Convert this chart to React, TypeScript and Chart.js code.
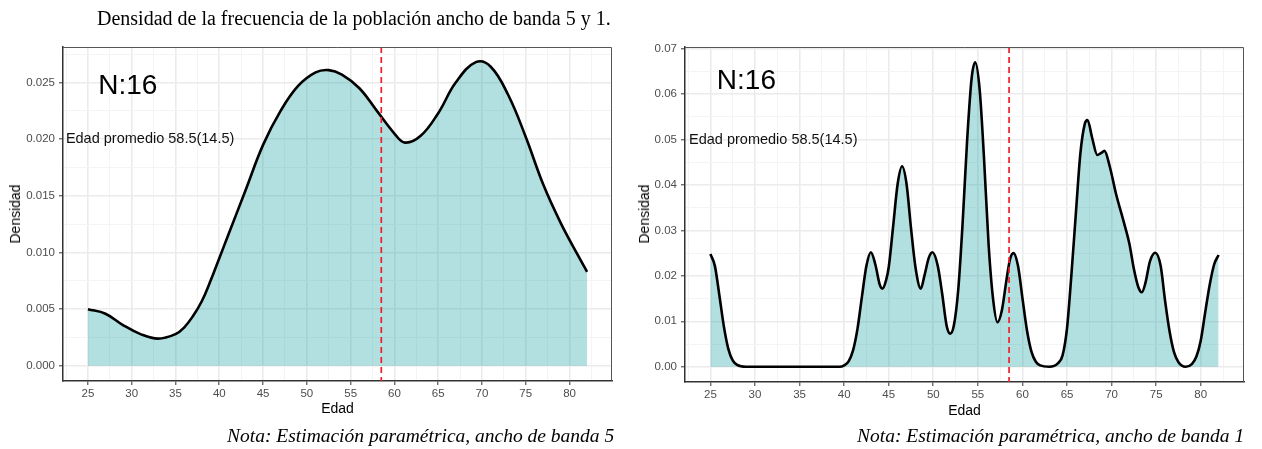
import React, { useEffect, useRef } from "react";
import { Chart, registerables } from "chart.js";

Chart.register(...registerables);

const TITLE = "Densidad de la frecuencia de la población ancho de banda 5 y 1.";
const NOTE_LEFT = "Nota: Estimación paramétrica, ancho de banda 5";
const NOTE_RIGHT = "Nota: Estimación paramétrica, ancho de banda 1";
const N_LABEL = "N:16";
const MEAN_LABEL = "Edad promedio 58.5(14.5)";
const MEAN_AGE = 58.5;
const X_TITLE = "Edad";
const Y_TITLE = "Densidad";

const X_TICKS = [22.5, 25, 27.5, 30, 32.5, 35, 37.5, 40, 42.5, 45, 47.5, 50, 52.5, 55, 57.5, 60, 62.5, 65, 67.5, 70, 72.5, 75, 77.5, 80, 82.5];
const LEFT_Y_TICKS = [0, 0.0025, 0.005, 0.0075, 0.01, 0.0125, 0.015, 0.0175, 0.02, 0.0225, 0.025, 0.0275];
const RIGHT_Y_TICKS = [0, 0.005, 0.01, 0.015, 0.02, 0.025, 0.03, 0.035, 0.04, 0.045, 0.05, 0.055, 0.06, 0.065, 0.07];

// Bandwidth 5 density
const BW5_AGES = [25, 27, 29, 31, 33, 35, 36, 37, 38, 39, 40, 41, 43, 45, 47, 49, 51, 52.5, 54, 56, 58, 60, 61.2, 63, 65, 67, 69.3, 71, 73, 75, 77, 79, 81, 82];
const BW5_DENSITY = [0.0050, 0.0046, 0.0036, 0.0028, 0.0024, 0.0028, 0.0034, 0.0044, 0.0057, 0.0075, 0.0095, 0.0115, 0.0155, 0.0195, 0.0225, 0.0247, 0.0259, 0.0261, 0.0257, 0.0245, 0.0225, 0.0205, 0.0197, 0.0203, 0.0223, 0.0250, 0.0268, 0.0264, 0.0239, 0.0202, 0.0160, 0.0126, 0.0097, 0.0083];

// Bandwidth 1 density
const BW1_AGES = [25, 25.5, 26, 26.5, 27, 27.5, 28, 29, 32, 36, 39.5, 40, 40.5, 41, 41.5, 42, 42.5, 43, 43.5, 44, 44.3, 44.7, 45, 45.5, 46, 46.5, 47, 47.5, 48, 48.6, 49, 49.5, 49.9, 50.5, 51, 51.5, 51.9, 52.3, 52.8, 53.3, 53.8, 54.3, 54.7, 55.2, 55.7, 56.2, 56.7, 57.2, 57.7, 58.2, 58.6, 59, 59.5, 60, 60.5, 61, 61.5, 62, 63, 64, 64.5, 65, 65.5, 66, 66.5, 67, 67.3, 67.8, 68.4, 68.8, 69.2, 69.8, 70.5, 71.3, 72, 72.5, 73, 73.4, 73.8, 74.3, 74.9, 75.5, 76, 76.5, 77, 77.5, 78.3, 79, 79.5, 80, 80.5, 81, 81.5, 82];
const BW1_DENSITY = [0.0248, 0.0222, 0.0158, 0.0090, 0.0040, 0.0014, 0.0004, 0, 0, 0, 0, 0.0003, 0.0012, 0.0036, 0.0084, 0.0155, 0.0222, 0.0252, 0.0225, 0.0180, 0.0172, 0.0190, 0.0219, 0.0310, 0.0402, 0.0441, 0.0402, 0.0305, 0.0219, 0.0172, 0.0200, 0.0240, 0.0252, 0.0222, 0.0160, 0.0090, 0.0073, 0.0090, 0.0170, 0.0320, 0.0500, 0.0635, 0.0670, 0.0610, 0.0455, 0.0270, 0.0150, 0.0098, 0.0125, 0.0190, 0.0236, 0.0250, 0.0222, 0.0151, 0.0081, 0.0034, 0.0011, 0.0003, 0, 0.0008, 0.0025, 0.0085, 0.0205, 0.0340, 0.0470, 0.0535, 0.0543, 0.0505, 0.0466, 0.0470, 0.0475, 0.0440, 0.0380, 0.0323, 0.0270, 0.0215, 0.0175, 0.0164, 0.0185, 0.0232, 0.0251, 0.0222, 0.0145, 0.0078, 0.0032, 0.0010, 0, 0.0006, 0.0022, 0.0058, 0.0120, 0.0180, 0.0225, 0.0246];

const SANS = '"Liberation Sans", Arial, Helvetica, sans-serif';
const SERIF = '"Liberation Serif", "Times New Roman", serif';

const isMajor = (v: number, step: number) => Math.abs(v / step - Math.round(v / step)) < 1e-6;

const overlayPlugin = {
  id: "overlay",
  afterDatasetsDraw(chart: any, _args: any, opts: any) {
    const { ctx, chartArea: a, scales } = chart;
    const x = scales.x;
    const y = scales.y;
    ctx.save();
    ctx.beginPath();
    ctx.rect(a.left, a.top, a.right - a.left, a.bottom - a.top);
    ctx.clip();
    ctx.strokeStyle = "#F01E28";
    ctx.lineWidth = 1.7;
    ctx.setLineDash([6, 4]);
    const px = x.getPixelForValue(MEAN_AGE);
    ctx.beginPath();
    ctx.moveTo(px, a.top);
    ctx.lineTo(px, a.bottom);
    ctx.stroke();
    ctx.restore();

    ctx.save();
    ctx.fillStyle = "#000";
    ctx.textAlign = "center";
    ctx.textBaseline = "middle";
    ctx.font = `28px ${SANS}`;
    ctx.fillText(N_LABEL, x.getPixelForValue(opts.nX), y.getPixelForValue(opts.nY));
    ctx.font = `14.5px ${SANS}`;
    ctx.fillStyle = "#111";
    ctx.fillText(MEAN_LABEL, x.getPixelForValue(opts.mX), y.getPixelForValue(opts.mY));
    // top & right border
    ctx.strokeStyle = "#555";
    ctx.lineWidth = 1;
    ctx.beginPath();
    ctx.moveTo(a.left, a.top + 0.5);
    ctx.lineTo(a.right - 0.5, a.top + 0.5);
    ctx.lineTo(a.right - 0.5, a.bottom);
    ctx.stroke();
    ctx.restore();
  },
};

type PanelProps = {
  left: number;
  ages: number[];
  dens: number[];
  smooth: boolean;
  yMin: number;
  yMax: number;
  yTicks: number[];
  yStep: number;
  yDecimals: number;
  yAxisWidth: number;
  rightPad: number;
  xAxisHeight: number;
  nX: number;
  nY: number;
  mX: number;
  mY: number;
};

function DensityPanel(p: PanelProps) {
  const ref = useRef<HTMLCanvasElement | null>(null);
  useEffect(() => {
    if (!ref.current) return;
    const chart = new Chart(ref.current, {
      type: "line",
      data: {
        datasets: [
          {
            data: p.ages.map((a, i) => ({ x: a, y: p.dens[i] })),
            borderColor: "#000",
            borderWidth: 2.6,
            backgroundColor: "rgba(0,150,150,0.3)",
            fill: "origin",
            pointRadius: 0,
            cubicInterpolationMode: p.smooth ? "default" : "monotone",
            tension: p.smooth ? 0.4 : 0,
          } as any,
        ],
      },
      options: {
        animation: false,
        responsive: false,
        devicePixelRatio: 1,
        layout: { padding: { top: 47, right: p.rightPad, left: 0, bottom: 0 } },
        plugins: {
          legend: { display: false },
          tooltip: { enabled: false },
          overlay: { nX: p.nX, nY: p.nY, mX: p.mX, mY: p.mY },
        } as any,
        scales: {
          x: {
            type: "linear",
            min: 22.15,
            max: 84.85,
            afterBuildTicks: (s: any) => {
              s.ticks = X_TICKS.map((v) => ({ value: v }));
            },
            afterFit: (s: any) => {
              s.height = p.xAxisHeight;
              s.paddingLeft = 0;
              s.paddingRight = 0;
            },
            ticks: {
              autoSkip: false,
              maxRotation: 0,
              minRotation: 0,
              padding: 2,
              color: "#4D4D4D",
              font: { family: SANS, size: 11.5 },
              callback: (v: any) => (isMajor(Number(v), 5) ? String(Number(v)) : ""),
            },
            grid: {
              color: (c: any) => (c.tick && isMajor(c.tick.value, 5) ? "#EBEBEB" : "#F4F4F4"),
              lineWidth: (c: any) => (c.tick && isMajor(c.tick.value, 5) ? 1.6 : 1),
              tickColor: (c: any) => (c.tick && isMajor(c.tick.value, 5) ? "#333" : "rgba(0,0,0,0)"),
              tickLength: 4,
              tickWidth: 1,
            },
            border: { display: true, color: "#333", width: 1.5 },
          },
          y: {
            type: "linear",
            min: p.yMin,
            max: p.yMax,
            afterBuildTicks: (s: any) => {
              s.ticks = p.yTicks.map((v) => ({ value: v }));
            },
            afterFit: (s: any) => {
              s.width = p.yAxisWidth;
              s.paddingTop = 0;
              s.paddingBottom = 0;
            },
            ticks: {
              autoSkip: false,
              padding: 4,
              color: "#4D4D4D",
              font: { family: SANS, size: 11.5 },
              callback: (v: any) => (isMajor(Number(v), p.yStep) ? Number(v).toFixed(p.yDecimals) : ""),
            },
            grid: {
              color: (c: any) => (c.tick && isMajor(c.tick.value, p.yStep) ? "#EBEBEB" : "#F4F4F4"),
              lineWidth: (c: any) => (c.tick && isMajor(c.tick.value, p.yStep) ? 1.6 : 1),
              tickColor: (c: any) => (c.tick && isMajor(c.tick.value, p.yStep) ? "#333" : "rgba(0,0,0,0)"),
              tickLength: 4,
              tickWidth: 1,
            },
            border: { display: true, color: "#333", width: 1.5 },
          },
        },
      },
      plugins: [overlayPlugin as any],
    });
    return () => chart.destroy();
  }, []);
  return (
    <canvas
      ref={ref}
      width={631}
      height={449}
      style={{ position: "absolute", left: p.left, top: 0, width: 631, height: 449 }}
    />
  );
}

const textBase: React.CSSProperties = { position: "absolute", whiteSpace: "nowrap", color: "#000" };

export default function App() {
  useEffect(() => {
    document.body.style.margin = "0";
    document.body.style.background = "#fff";
  }, []);
  return (
    <div style={{ position: "absolute", left: 0, top: 0, width: 1262, height: 449, background: "#fff", overflow: "hidden" }}>
      <DensityPanel
        left={0}
        ages={BW5_AGES}
        dens={BW5_DENSITY}
        smooth={true}
        yMin={-0.00134}
        yMax={0.02814}
        yTicks={LEFT_Y_TICKS}
        yStep={0.005}
        yDecimals={3}
        yAxisWidth={63}
        rightPad={19}
        xAxisHeight={68}
        nX={29.55}
        nY={0.0247}
        mX={32.1}
        mY={0.02}
      />
      <DensityPanel
        left={631}
        ages={BW1_AGES}
        dens={BW1_DENSITY}
        smooth={false}
        yMin={-0.00335}
        yMax={0.07035}
        yTicks={RIGHT_Y_TICKS}
        yStep={0.01}
        yDecimals={2}
        yAxisWidth={54}
        rightPad={18}
        xAxisHeight={67}
        nX={29.04}
        nY={0.0627}
        mX={32.05}
        mY={0.0498}
      />
      <div style={{ ...textBase, left: 97, top: 6, fontFamily: SERIF, fontSize: 20, lineHeight: "24px" }}>{TITLE}</div>
      <div style={{ ...textBase, left: 227, top: 425, fontFamily: SERIF, fontStyle: "italic", fontSize: 19.5, lineHeight: "22px" }}>{NOTE_LEFT}</div>
      <div style={{ ...textBase, left: 857, top: 425, fontFamily: SERIF, fontStyle: "italic", fontSize: 19.5, lineHeight: "22px" }}>{NOTE_RIGHT}</div>
      <div style={{ ...textBase, left: 337.5, top: 399, transform: "translateX(-50%)", fontFamily: SANS, fontSize: 14, lineHeight: "18px" }}>{X_TITLE}</div>
      <div style={{ ...textBase, left: 964.5, top: 401, transform: "translateX(-50%)", fontFamily: SANS, fontSize: 14, lineHeight: "18px" }}>{X_TITLE}</div>
      <div style={{ ...textBase, left: 15, top: 214, transform: "translate(-50%, -50%) rotate(-90deg)", fontFamily: SANS, fontSize: 14, lineHeight: "18px" }}>{Y_TITLE}</div>
      <div style={{ ...textBase, left: 644, top: 214, transform: "translate(-50%, -50%) rotate(-90deg)", fontFamily: SANS, fontSize: 14, lineHeight: "18px" }}>{Y_TITLE}</div>
    </div>
  );
}
